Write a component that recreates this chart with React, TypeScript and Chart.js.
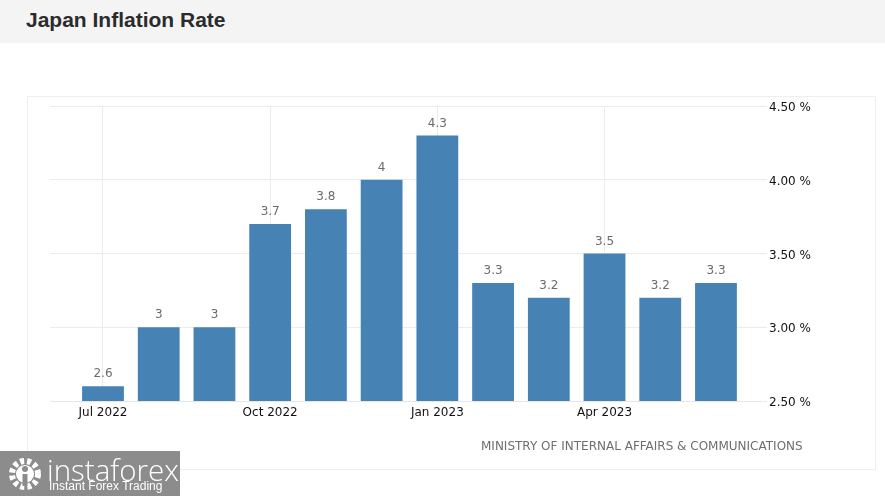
import React, { useEffect, useRef } from "react";
import { Chart, registerables } from "chart.js";

Chart.register(...registerables);

const months = ["Jul 2022", "Aug 2022", "Sep 2022", "Oct 2022", "Nov 2022", "Dec 2022", "Jan 2023", "Feb 2023", "Mar 2023", "Apr 2023", "May 2023", "Jun 2023"];
const inflation = [2.6, 3.0, 3.0, 3.7, 3.8, 4.0, 4.3, 3.3, 3.2, 3.5, 3.2, 3.3];
const valueLabels = ["2.6", "3", "3", "3.7", "3.8", "4", "4.3", "3.3", "3.2", "3.5", "3.2", "3.3"];
const xTickIndexes = [0, 3, 6, 9];
const yTicks = [2.5, 3.0, 3.5, 4.0, 4.5];

const FONT = "'DejaVu Sans', Verdana, sans-serif";

const labelPlugin = {
  id: "barValueLabels",
  afterDatasetsDraw(chart: any) {
    const ctx = chart.ctx;
    const meta = chart.getDatasetMeta(0);
    ctx.save();
    ctx.font = `12px ${FONT}`;
    ctx.fillStyle = "#6b6b6b";
    ctx.textAlign = "center";
    ctx.textBaseline = "bottom";
    meta.data.forEach((bar: any, i: number) => {
      ctx.fillText(valueLabels[i], bar.x, bar.y - 6);
    });
    ctx.restore();
  },
};

export default function App() {
  const canvasRef = useRef<HTMLCanvasElement | null>(null);

  useEffect(() => {
    const canvas = canvasRef.current;
    if (!canvas) return;
    const chart = new Chart(canvas, {
      type: "bar",
      data: {
        datasets: [
          {
            data: inflation.map((v, i) => ({ x: i, y: v })),
            backgroundColor: "#4682b4",
            borderWidth: 0,
            barPercentage: 0.75,
            categoryPercentage: 1,
          },
        ],
      },
      options: {
        animation: false,
        responsive: false,
        maintainAspectRatio: false,
        layout: { padding: { top: 106, left: 50, right: 0, bottom: 0 } },
        plugins: { legend: { display: false }, tooltip: { enabled: false } },
        scales: {
          x: {
            type: "linear",
            min: -0.951,
            max: 11.79,
            offset: false,
            afterBuildTicks: (axis: any) => {
              axis.ticks = xTickIndexes.map((v) => ({ value: v }));
            },
            afterFit: (axis: any) => {
              axis.height = 95;
            },
            ticks: {
              callback: (v: any) => months[Number(v)] ?? "",
              font: { family: FONT, size: 12 },
              color: "#111",
              padding: 5,
              maxRotation: 0,
              autoSkip: false,
            },
            grid: { color: "#ececec", drawTicks: false, offset: false },
            border: { display: true, color: "#e6e6e6" },
          },
          y: {
            position: "right",
            min: 2.5,
            max: 4.5,
            afterBuildTicks: (axis: any) => {
              axis.ticks = yTicks.map((v) => ({ value: v }));
            },
            afterFit: (axis: any) => {
              axis.width = 125;
            },
            ticks: {
              callback: (v: any) => Number(v).toFixed(2) + " %",
              font: { family: FONT, size: 12 },
              color: "#111",
              padding: 2,
              labelOffset: 2,
            },
            grid: { color: "#ececec", tickLength: 7 },
            border: { display: false },
          },
        },
      },
      plugins: [labelPlugin],
    });
    return () => chart.destroy();
  }, []);

  return (
    <div style={{ position: "fixed", left: 0, top: 0, width: 885, height: 496, background: "#fff", overflow: "hidden" }}>
      <div style={{ position: "absolute", left: 0, top: 0, width: 885, height: 43, background: "#f4f4f4" }} />
      <div
        style={{
          position: "absolute",
          left: 26,
          top: 8,
          font: "bold 21px 'Liberation Sans', Arial, sans-serif",
          color: "#2b2b2b",
          whiteSpace: "nowrap",
        }}
      >
        Japan Inflation Rate
      </div>
      <div
        style={{
          position: "absolute",
          left: 27,
          top: 96,
          width: 847,
          height: 372,
          border: "1px solid #eeeeee",
        }}
      />
      <canvas ref={canvasRef} width={885} height={496} style={{ position: "absolute", left: 0, top: 0, width: 885, height: 496 }} />
      <div
        style={{
          position: "absolute",
          left: 481,
          top: 439,
          font: "12px 'DejaVu Sans', sans-serif",
          color: "#6e6e6e",
          whiteSpace: "nowrap",
        }}
      >
        MINISTRY OF INTERNAL AFFAIRS &amp; COMMUNICATIONS
      </div>
      <div style={{ position: "absolute", left: 0, top: 451, width: 180, height: 45, background: "#8c8c8c" }}>
        <svg width="40" height="40" viewBox="0 0 40 40" style={{ position: "absolute", left: 5, top: 3 }}>
          <circle cx="20" cy="20" r="13" fill="none" stroke="#fff" strokeWidth="6" strokeDasharray="4 3" />
          <circle cx="20" cy="20" r="9" fill="#fff" />
          <circle cx="20" cy="15" r="3" fill="#8c8c8c" />
          <rect x="17.5" y="20" width="5" height="12" fill="#8c8c8c" />
        </svg>
        <div
          style={{
            position: "absolute",
            left: 47,
            top: -2,
            font: "300 29.5px 'Open Sans', 'DejaVu Sans', sans-serif",
            color: "#fff",
            whiteSpace: "nowrap",
          }}
        >
          instaforex
        </div>
        <div
          style={{
            position: "absolute",
            left: 49,
            top: 28,
            font: "12px 'Liberation Sans', Arial, sans-serif",
            color: "#fff",
            whiteSpace: "nowrap",
          }}
        >
          Instant Forex Trading
        </div>
      </div>
    </div>
  );
}
